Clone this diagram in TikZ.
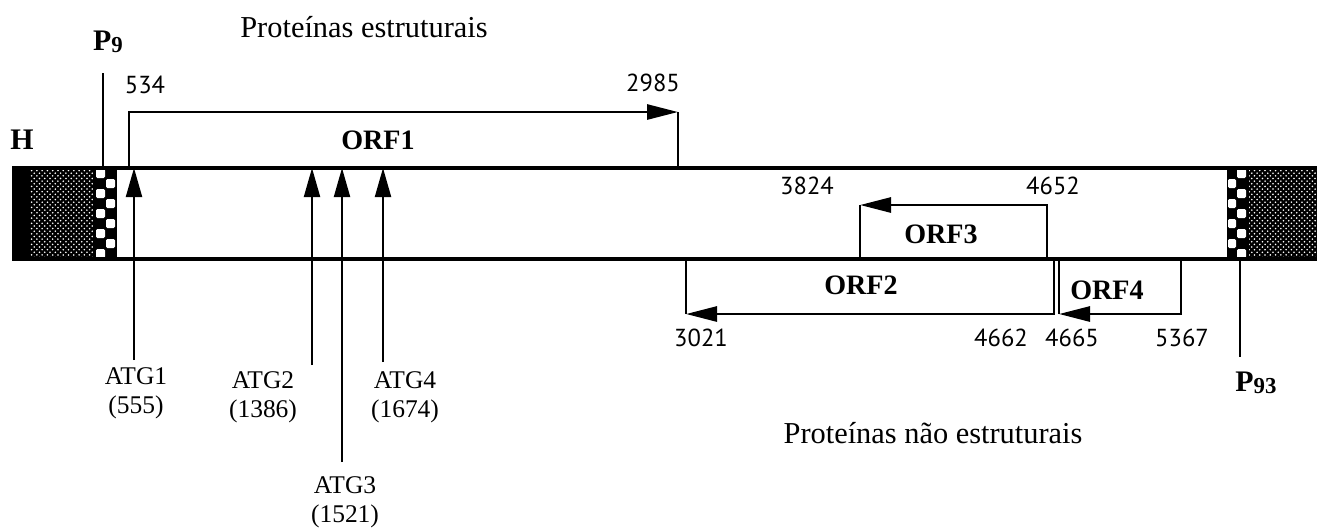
\documentclass[tikz,border=0pt]{standalone}
\usepackage{fontspec}
\setmainfont{Liberation Serif}
\newfontfamily\numfont{PT Sans}
\usetikzlibrary{arrows.meta,patterns,positioning}
\tikzset{
  genline/.style={line width=2.2pt},
  orf/.style={line width=1.6pt},
  orfarr/.style={orf,-{Triangle[length=0.62cm,width=0.3cm]}},
  atgarr/.style={line width=1.2pt,-{Triangle[length=0.58cm,width=0.32cm]}},
  numlab/.style={font=\numfont\fontsize{14}{15}\selectfont,inner sep=0pt},
  orflab/.style={font=\bfseries\fontsize{16}{18}\selectfont,inner sep=0pt},
  atglab/.style={font=\fontsize{14.5}{16.5}\selectfont,align=center,inner sep=0pt},
  prom/.style={font=\bfseries\fontsize{17}{19}\selectfont,inner sep=0pt},
  titl/.style={font=\fontsize{17.3}{19}\selectfont,inner sep=0pt},
  stipple/.style={fill=black,postaction={pattern=crosshatch dots,pattern color=white}},
  chk/.style={white,rounded corners=0.8pt}
}
\newcommand{\oldnum}[1]{{\fontsize{13}{15}\selectfont\raisebox{-1.5pt}{#1}}}

\begin{document}
\begin{tikzpicture}[x=0.02cm,y=-0.02cm]
  \useasboundingbox (0,0) rectangle (1317,529);

  % genome ends
  \fill[black] (12,168) rectangle (30,259);
  \path[stipple] (30,168) rectangle (93,259);
  \fill[black] (93,168) rectangle (117,259);
  \foreach \y in {169,189,...,249}
    \fill[chk] (96,\y) rectangle ++(9,9);
  \foreach \y in {179,199,...,239}
    \fill[chk] (106,\y) rectangle ++(9,9);

  \fill[black] (1227,168) rectangle (1249,259);
  \path[stipple] (1249,168) rectangle (1317,259);
  \foreach \y in {169,189,...,249}
    \fill[chk] (1237,\y) rectangle ++(9,9);
  \foreach \y in {179,199,...,239}
    \fill[chk] (1228,\y) rectangle ++(8,9);

  \draw[genline] (12,168) -- (1317,168);
  \draw[genline] (12,259) -- (1317,259);

  \node[prom] (h) at (22,140) {H};

  % promoters
  \coordinate (p9top) at (103,73);
  \coordinate (p9bot) at (103,168);
  \draw[line width=1.2pt] (p9top) -- (p9bot);
  \node[prom] (p9) at (108,42) {P\oldnum{9}};
  \coordinate (p93top) at (1240,259);
  \coordinate (p93bot) at (1240,357);
  \draw[line width=1.2pt] (p93top) -- (p93bot);
  \node[prom] (p93) at (1256,383) {P\oldnum{93}};

  % ORF1
  \coordinate (o1a) at (129,168);
  \coordinate (o1b) at (678,112);
  \coordinate (o1c) at (678,168);
  \draw[orfarr] (o1a) |- (o1b);
  \draw[orf] (o1b) -- (o1c);
  \node[orflab] (orf1) at (378,140) {ORF1};
  \node[numlab] (n534) at (145,85) {534};
  \node[numlab] (n2985) at (653,83) {2985};

  % ORF3
  \coordinate (o3a) at (1047,259);
  \coordinate (o3b) at (860,205);
  \coordinate (o3c) at (860,259);
  \draw[orfarr] (o3a) |- (o3b);
  \draw[orf] (o3b) -- (o3c);
  \node[orflab] (orf3) at (941,234) {ORF3};
  \node[numlab] (n3824) at (807,186) {3824};
  \node[numlab] (n4652) at (1053,186) {4652};

  % ORF2
  \coordinate (o2a) at (1054,259);
  \coordinate (o2b) at (686,314);
  \coordinate (o2c) at (686,259);
  \draw[orfarr] (o2a) |- (o2b);
  \draw[orf] (o2b) -- (o2c);
  \node[orflab] (orf2) at (861,285) {ORF2};
  \node[numlab] (n3021) at (701,338) {3021};
  \node[numlab] (n4662) at (1001,338) {4662};

  % ORF4
  \coordinate (o4a) at (1181,259);
  \coordinate (o4b) at (1059,314);
  \coordinate (o4c) at (1059,259);
  \draw[orfarr] (o4a) |- (o4b);
  \draw[orf] (o4b) -- (o4c);
  \node[orflab] (orf4) at (1107,290) {ORF4};
  \node[numlab] (n4665) at (1072,338) {4665};
  \node[numlab] (n5367) at (1182,338) {5367};

  % start codons
  \coordinate (g1) at (134,360);  \coordinate (g1t) at (134,168);
  \coordinate (g2) at (312,365);  \coordinate (g2t) at (312,168);
  \coordinate (g3) at (342,462);  \coordinate (g3t) at (342,168);
  \coordinate (g4) at (383,362);  \coordinate (g4t) at (383,168);
  \draw[atgarr] (g1) -- (g1t);
  \draw[atgarr] (g2) -- (g2t);
  \draw[atgarr] (g3) -- (g3t);
  \draw[atgarr] (g4) -- (g4t);
  \node[atglab] (atg1) at (136,393) {ATG1\\(555)};
  \node[atglab] (atg2) at (263,397) {ATG2\\(1386)};
  \node[atglab] (atg3) at (345,502) {ATG3\\(1521)};
  \node[atglab] (atg4) at (405,397) {ATG4\\(1674)};

  \node[titl] (estr) at (364,27) {Proteínas estruturais};
  \node[titl] (nestr) at (933,433) {Proteínas não estruturais};
\end{tikzpicture}
\end{document}
